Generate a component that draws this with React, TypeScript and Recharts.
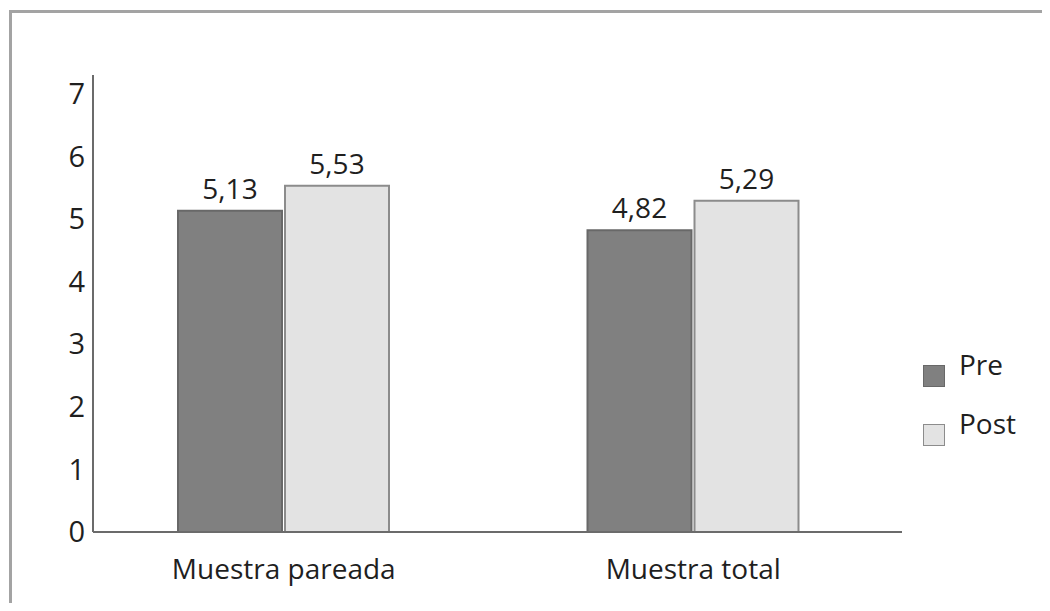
import React from 'react';
import { BarChart, Bar, XAxis, YAxis, Legend, LabelList } from 'recharts';

const categories = ['Muestra pareada', 'Muestra total'];
const preValues = [5.13, 4.82];
const postValues = [5.53, 5.29];
const yTicks = [0, 1, 2, 3, 4, 5, 6, 7];
const seriesOrder = ['Pre', 'Post'];

const data = categories.map((name, i) => ({ name, Pre: preValues[i], Post: postValues[i] }));

const font = '"Open Sans", sans-serif';
const textColor = '#1f1f1f';
const axisColor = '#6b6b6b';

const LegendBox = (props: any) => {
  const items = [...(props.payload || [])].sort(
    (a: any, b: any) => seriesOrder.indexOf(a.value) - seriesOrder.indexOf(b.value)
  );
  return (
    <div style={{ fontFamily: font }}>
      {items.map((it: any) => (
        <div key={it.value} style={{ display: 'flex', alignItems: 'flex-start', height: 59 }}>
          <div
            style={{
              width: 20,
              height: 20,
              marginTop: 15,
              background: it.payload.fill,
              border: `1.5px solid ${it.payload.stroke}`,
            }}
          />
          <span style={{ marginLeft: 14, fontSize: 28, lineHeight: '28px', color: textColor }}>{it.value}</span>
        </div>
      ))}
    </div>
  );
};

const App = () => {
  return (
    <div style={{ position: 'relative', width: 1034, height: 595 }}>
      <div
        style={{
          position: 'absolute',
          left: 1,
          top: 2,
          width: 1036,
          height: 610,
          borderTop: '3px solid #a3a3a3',
          borderLeft: '3px solid #a3a3a3',
          borderRight: '1px solid #e6e6e6',
        }}
      />
      <BarChart
        width={1034}
        height={595}
        data={data}
        margin={{ top: 67, right: 140, left: 0, bottom: 21 }}
        barSize={104}
        barGap={3}
        style={{ fontFamily: font }}
      >
        <XAxis
          dataKey="name"
          height={50}
          padding={{ left: -14, right: 4 }}
          tickLine={false}
          tickSize={0}
          tickMargin={27}
          axisLine={{ stroke: axisColor, strokeWidth: 2 }}
          tick={{ fontSize: 28, fill: textColor }}
        />
        <YAxis
          width={85}
          domain={[0, 7.3]}
          ticks={yTicks}
          tickLine={false}
          tickSize={0}
          tickMargin={8}
          axisLine={{ stroke: axisColor, strokeWidth: 2 }}
          tick={{ fontSize: 29, fill: textColor }}
        />
        <Legend
          layout="horizontal"
          verticalAlign="middle"
          align="center"
          wrapperStyle={{ left: 915, top: 342, width: 110 }}
          content={<LegendBox />}
        />
        <Bar dataKey="Pre" fill="#808080" stroke="#686868" strokeWidth={2} isAnimationActive={false}>
          <LabelList
            dataKey="Pre"
            position="top"
            offset={12}
            formatter={(v: any) => String(v).replace('.', ',')}
            style={{ fontSize: 28, fill: textColor }}
          />
        </Bar>
        <Bar dataKey="Post" fill="#e3e3e3" stroke="#8c8c8c" strokeWidth={2} isAnimationActive={false}>
          <LabelList
            dataKey="Post"
            position="top"
            offset={12}
            formatter={(v: any) => String(v).replace('.', ',')}
            style={{ fontSize: 28, fill: textColor }}
          />
        </Bar>
      </BarChart>
    </div>
  );
};

export default App;
